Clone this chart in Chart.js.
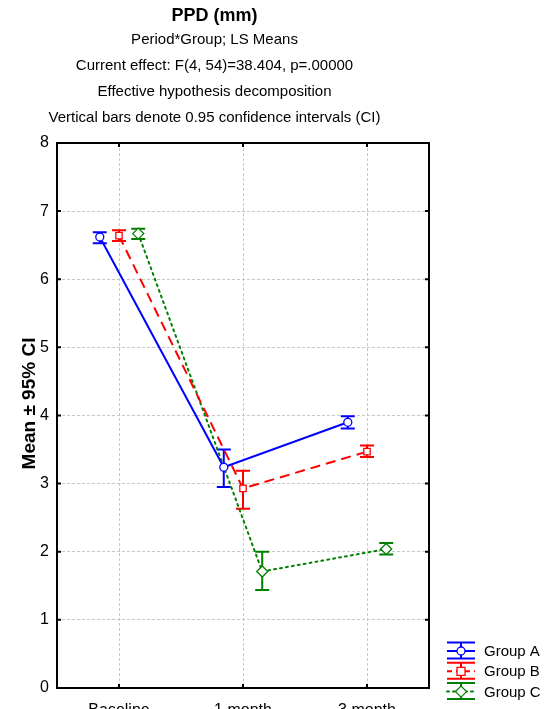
<!DOCTYPE html>
<html>
<head>
<meta charset="utf-8">
<script src="https://cdn.jsdelivr.net/npm/chart.js@4.4.1/dist/chart.umd.min.js"></script>
<style>
  html, body { margin: 0; padding: 0; background: #fff; overflow: hidden; }
  #wrap { position: relative; width: 548px; height: 730px; }
</style>
</head>
<body>
<div id="wrap"><canvas id="c"></canvas></div>
<script>
// ---- data ----
const categories = ['Baseline', '1 month', '3 month'];
const groupNames = ['Group A', 'Group B', 'Group C'];
const meanA  = [6.62, 3.24, 3.90];
const lowerA = [6.53, 2.95, 3.81];
const upperA = [6.69, 3.50, 3.99];
const meanB  = [6.64, 2.93, 3.47];
const lowerB = [6.56, 2.63, 3.39];
const upperB = [6.72, 3.19, 3.56];
const meanC  = [6.67, 1.71, 2.04];
const lowerC = [6.59, 1.44, 1.96];
const upperC = [6.74, 2.00, 2.13];
const yTicks = [0, 1, 2, 3, 4, 5, 6, 7, 8];
const yAxisTitle = 'Mean ± 95% CI';

// ---- styling ----
const FONT = "'Liberation Sans', Arial, sans-serif";
const colors = ['#0000ff', '#ff0000', '#008000'];
const dashes = [[], [10, 6], [2, 4]];
const pstyles = ['circle', 'rect', 'rectRot'];
const pradius = [4, 4.5, 5.5];
const dodge = [-0.155, 0, 0.155];

const means = [meanA, meanB, meanC];
const lowers = [lowerA, lowerB, lowerC];
const uppers = [upperA, upperB, upperC];

const datasets = groupNames.map((name, g) => ({
  label: name,
  data: categories.map((c, i) => ({ x: i + dodge[g], y: means[g][i] })),
  borderColor: colors[g],
  backgroundColor: '#ffffff',
  borderWidth: 2,
  borderDash: dashes[g],
  borderCapStyle: g === 2 ? 'round' : 'butt',
  pointStyle: pstyles[g],
  pointRadius: pradius[g],
  pointBorderWidth: 1.3,
  pointBorderColor: colors[g],
  pointBackgroundColor: '#ffffff',
  tension: 0,
  fill: false
}));

const errorBars = {
  id: 'errorBars',
  beforeDatasetsDraw(chart) {
    const { ctx, scales: { x, y } } = chart;
    ctx.save();
    ctx.lineWidth = 2;
    ctx.setLineDash([]);
    groupNames.forEach((n, g) => {
      ctx.strokeStyle = colors[g];
      categories.forEach((c, i) => {
        const px = x.getPixelForValue(i + dodge[g]);
        const yl = y.getPixelForValue(lowers[g][i]);
        const yu = y.getPixelForValue(uppers[g][i]);
        ctx.beginPath();
        ctx.moveTo(px, yl); ctx.lineTo(px, yu);
        ctx.moveTo(px - 7, yl); ctx.lineTo(px + 7, yl);
        ctx.moveTo(px - 7, yu); ctx.lineTo(px + 7, yu);
        ctx.stroke();
      });
    });
    ctx.restore();
  }
};

const frame = {
  id: 'frame',
  afterDraw(chart) {
    const { ctx, chartArea: a, scales: { x, y } } = chart;
    ctx.save();
    ctx.strokeStyle = '#000';
    ctx.lineWidth = 2;
    ctx.setLineDash([]);
    ctx.strokeRect(a.left, a.top, a.right - a.left, a.bottom - a.top);
    ctx.beginPath();
    yTicks.forEach(v => {
      const py = y.getPixelForValue(v);
      ctx.moveTo(a.left, py); ctx.lineTo(a.left + 4, py);
      ctx.moveTo(a.right, py); ctx.lineTo(a.right - 4, py);
    });
    categories.forEach((c, i) => {
      const px = x.getPixelForValue(i);
      ctx.moveTo(px, a.bottom); ctx.lineTo(px, a.bottom - 4);
      ctx.moveTo(px, a.top); ctx.lineTo(px, a.top + 4);
    });
    ctx.stroke();
    // y axis title (rotated)
    ctx.translate(30, (a.top + a.bottom) / 2 - 12);
    ctx.rotate(-Math.PI / 2);
    ctx.fillStyle = '#000';
    ctx.font = 'bold 19px ' + FONT;
    ctx.textAlign = 'center';
    ctx.textBaseline = 'middle';
    ctx.fillText(yAxisTitle, 0, 0);
    ctx.restore();
  }
};

const legendBox = {
  id: 'legendBox',
  afterDraw(chart) {
    const { ctx } = chart;
    ctx.save();
    const x0 = 447, x1 = 475, xm = 461;
    groupNames.forEach((name, g) => {
      const cy = 651 + 20.3 * g;
      ctx.strokeStyle = colors[g];
      ctx.lineWidth = 2;
      ctx.setLineDash([]);
      ctx.beginPath();
      ctx.moveTo(x0, cy - 8.5); ctx.lineTo(x1, cy - 8.5);
      ctx.moveTo(x0, cy + 7.5); ctx.lineTo(x1, cy + 7.5);
      ctx.moveTo(xm, cy - 8.5); ctx.lineTo(xm, cy + 7.5);
      ctx.stroke();
      ctx.setLineDash(dashes[g].length ? (g === 1 ? [5, 4] : [2, 4]) : []);
      ctx.lineCap = g === 2 ? 'round' : 'butt';
      ctx.beginPath();
      ctx.moveTo(x0, cy); ctx.lineTo(x1, cy);
      ctx.stroke();
      ctx.setLineDash([]);
      ctx.lineWidth = 1.3;
      ctx.fillStyle = '#fff';
      ctx.beginPath();
      if (g === 0) {
        ctx.arc(xm, cy, 4, 0, Math.PI * 2);
      } else if (g === 1) {
        ctx.rect(xm - 4, cy - 4, 8, 8);
      } else {
        ctx.moveTo(xm, cy - 5.5); ctx.lineTo(xm + 5.5, cy); ctx.lineTo(xm, cy + 5.5); ctx.lineTo(xm - 5.5, cy); ctx.closePath();
      }
      ctx.fill();
      ctx.stroke();
      ctx.fillStyle = '#000';
      ctx.font = '15px ' + FONT;
      ctx.textAlign = 'left';
      ctx.textBaseline = 'middle';
      ctx.fillText(name, 484, cy + 1);
    });
    ctx.restore();
  }
};

new Chart(document.getElementById('c'), {
  type: 'line',
  data: { datasets },
  options: {
    responsive: true,
    maintainAspectRatio: false,
    animation: false,
    layout: { padding: { left: 0, right: 119, top: 0, bottom: 0 } },
    plugins: {
      legend: { display: false },
      tooltip: { enabled: false },
      title: {
        display: true,
        text: 'PPD (mm)',
        color: '#000',
        font: { family: FONT, size: 18, weight: 'bold', lineHeight: 1.2 },
        padding: { top: 5, bottom: 0 }
      },
      subtitle: {
        display: true,
        text: ['Period*Group; LS Means', 'Current effect: F(4, 54)=38.404, p=.00000', 'Effective hypothesis decomposition', 'Vertical bars denote 0.95 confidence intervals (CI)'],
        color: '#000',
        font: { family: FONT, size: 15, weight: 'normal', lineHeight: 1.7333 },
        padding: { top: 0, bottom: 12.4 }
      }
    },
    scales: {
      x: {
        type: 'linear',
        min: -0.5,
        max: 2.5,
        afterBuildTicks(scale) { scale.ticks = categories.map((c, i) => ({ value: i })); },
        afterFit(scale) { scale.height = 42; },
        ticks: {
          autoSkip: false, maxRotation: 0, padding: 13,
          color: '#000',
          font: { family: FONT, size: 16 },
          callback: (v) => categories[v]
        },
        grid: { color: '#c8c8c8', lineWidth: 1, drawTicks: false },
        border: { display: false, dash: [3, 2] }
      },
      y: {
        min: 0,
        max: 8,
        afterBuildTicks(scale) { scale.ticks = yTicks.map(v => ({ value: v })); },
        afterFit(scale) { scale.width = 57; },
        ticks: { padding: 8, color: '#000', font: { family: FONT, size: 16 } },
        grid: { color: '#c8c8c8', lineWidth: 1, drawTicks: false },
        border: { display: false, dash: [3, 2] },
        title: { display: false, text: yAxisTitle }
      }
    }
  },
  plugins: [errorBars, frame, legendBox]
});
</script>
</body>
</html>
